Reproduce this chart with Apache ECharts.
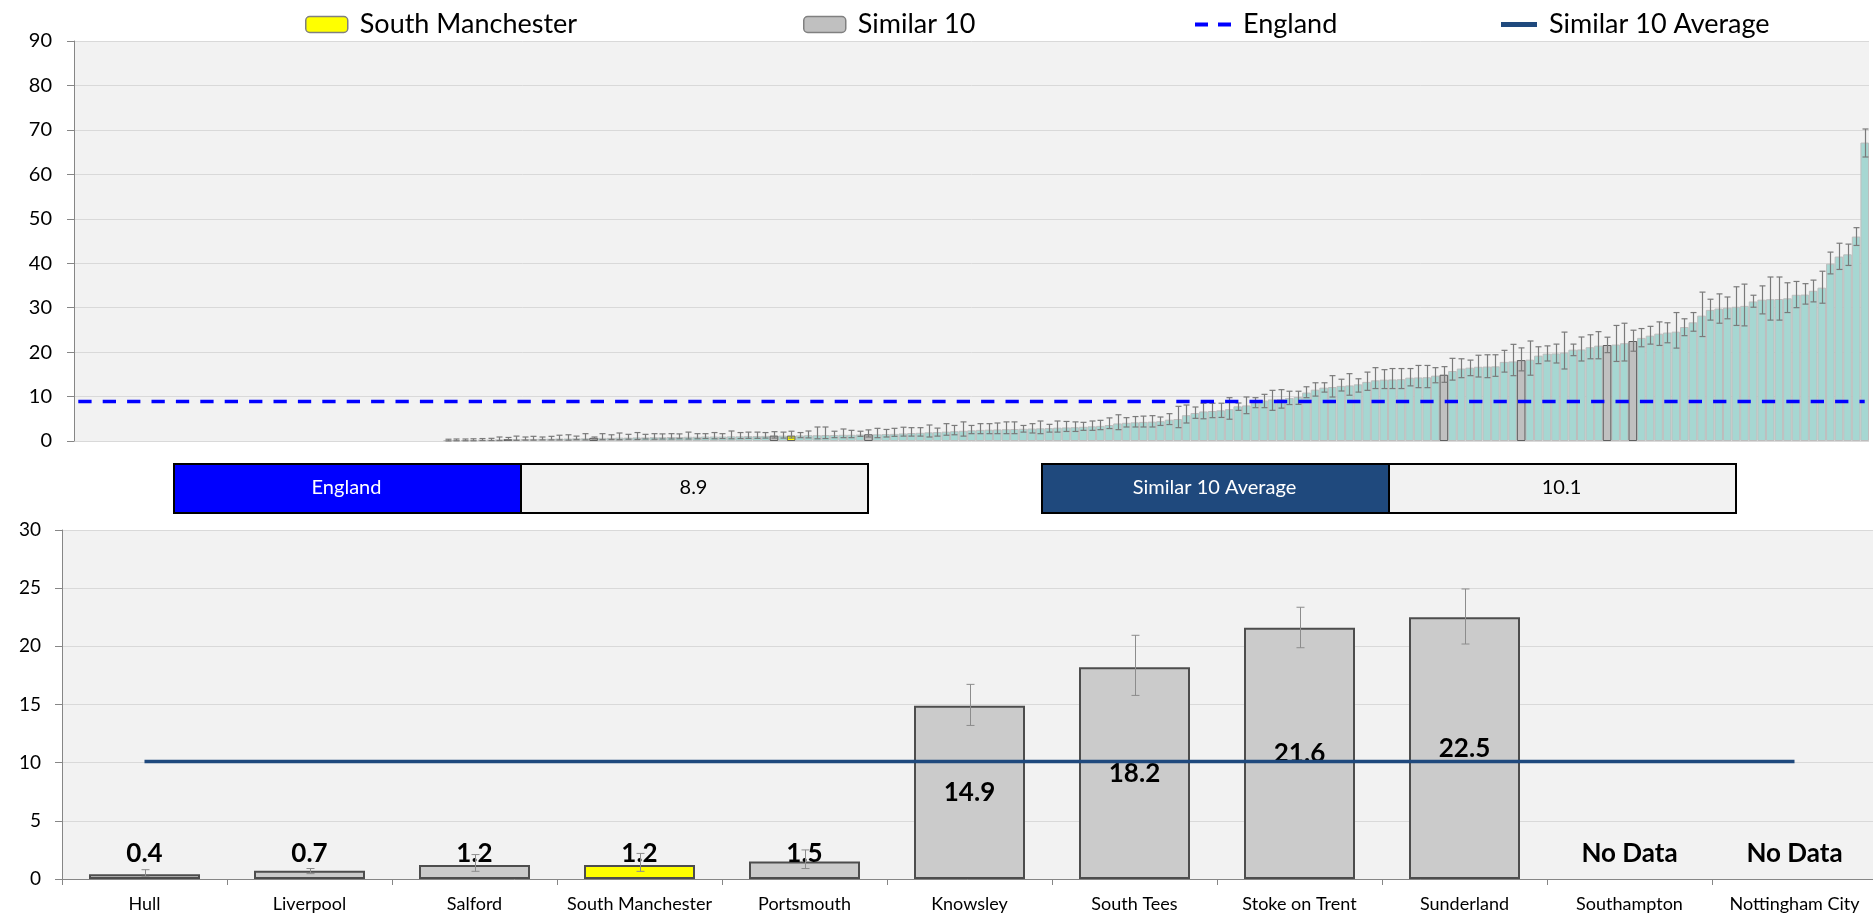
<!DOCTYPE html>
<html>
<head>
<meta charset="utf-8">
<script src="https://cdn.jsdelivr.net/npm/echarts/dist/echarts.min.js"></script>
<style>
  html, body { margin: 0; padding: 0; background: #ffffff; }
  #chart { width: 1873px; height: 915px; }
</style>
</head>
<body>
<div id="chart"></div>
<script>
// ---- Data ---------------------------------------------------------------
const localName = 'South Manchester';
const englandValue = 8.9;
const similarAverage = 10.1;

// Comparator group (bottom panel)
const similarNames = ['Hull', 'Liverpool', 'Salford', 'South Manchester', 'Portsmouth',
  'Knowsley', 'South Tees', 'Stoke on Trent', 'Sunderland', 'Southampton', 'Nottingham City'];
const similarValues = [0.4, 0.7, 1.2, 1.2, 1.5, 14.9, 18.2, 21.6, 22.5, null, null];
const similarLower  = [0.23, 0.46, 0.66, 0.66, 0.9, 13.2, 15.78, 19.88, 20.2, null, null];
const similarUpper  = [0.8, 0.9, 2.1, 2.2, 2.5, 16.73, 20.95, 23.36, 24.93, null, null];
// position of each comparator within the national ranking (1 = lowest)
const similarRank   = [51, 61, 82, 84, 93, 160, 169, 179, 182, null, null];

// National ranking (top panel), lowest to highest; null = no data
const rankedValues = [
  null, null, null, null, null, null, null, null, null, null,
  null, null, null, null, null, null, null, null, null, null,
  null, null, null, null, null, null, null, null, null, null,
  null, null, null, null, null, null, null, null, null, null,
  null, null, null,
  0.15, 0.2, 0.2, 0.25, 0.3, 0.3, 0.35, 0.4, 0.4, 0.45,
  0.45, 0.5, 0.5, 0.55, 0.55, 0.6, 0.6, 0.7, 0.7, 0.7,
  0.75, 0.75, 0.8, 0.8, 0.85, 0.85, 0.9, 0.9, 0.95, 0.95,
  1.0, 1.0, 1.0, 1.05, 1.05, 1.1, 1.1, 1.15, 1.2, 1.2,
  1.2, 1.25, 1.3, 1.3, 1.35, 1.35, 1.4, 1.4, 1.45, 1.5,
  1.5, 1.55, 1.6, 1.7, 1.8, 1.85, 1.95, 2.0, 2.1, 2.2,
  2.3, 2.4, 2.5, 2.55, 2.6, 2.65, 2.7, 2.75, 2.8, 2.85,
  2.9, 3.0, 3.05, 3.1, 3.2, 3.3, 3.4, 3.6, 3.95, 4.1,
  4.2, 4.3, 4.35, 4.45, 4.8, 4.95, 5.8, 6.3, 6.65, 6.75,
  6.9, 7.15, 7.8, 8.0, 8.6, 9.1, 9.35, 9.45, 9.65, 9.9,
  10.9, 11.55, 12.0, 12.15, 12.4, 12.5, 12.75, 13.3, 13.65, 13.8,
  13.85, 13.9, 14.25, 14.3, 14.35, 14.7, 14.9, 15.75, 16.3, 16.5,
  16.7, 16.75, 16.8, 17.8, 17.9, 18.2, 18.3, 19.2, 19.65, 19.7,
  19.9, 20.55, 20.6, 21.1, 21.45, 21.6, 21.7, 22.0, 22.5, 23.2,
  23.7, 24.15, 24.4, 24.6, 25.65, 26.7, 28.2, 29.5, 29.8, 30.0,
  30.2, 30.4, 31.4, 31.8, 31.9, 31.95, 32.1, 32.9, 32.95, 33.8,
  34.5, 39.9, 41.5, 42.0, 46.0, 67.15
];
const rankedLower = [
  null, null, null, null, null, null, null, null, null, null,
  null, null, null, null, null, null, null, null, null, null,
  null, null, null, null, null, null, null, null, null, null,
  null, null, null, null, null, null, null, null, null, null,
  null, null, null,
  0.02, 0.05, 0.05, 0.05, 0.1, 0.1, 0.1, 0.23, 0.15, 0.2,
  0.2, 0.25, 0.25, 0.25, 0.2, 0.3, 0.25, 0.46, 0.3, 0.35,
  0.3, 0.4, 0.35, 0.45, 0.4, 0.45, 0.45, 0.5, 0.45, 0.5,
  0.55, 0.5, 0.55, 0.5, 0.55, 0.6, 0.6, 0.65, 0.66, 0.65,
  0.66, 0.75, 0.7, 0.5, 0.55, 0.75, 0.75, 0.75, 1.05, 0.9,
  0.75, 0.9, 1.05, 1.1, 1.1, 1.1, 0.9, 1.1, 1.3, 1.4,
  1.1, 1.65, 1.65, 1.65, 1.65, 1.65, 1.65, 2.0, 1.8, 1.65,
  2.0, 2.0, 2.15, 2.15, 2.4, 2.4, 2.55, 2.8, 2.55, 3.15,
  3.15, 3.15, 3.15, 3.5, 3.7, 3.0, 4.05, 5.1, 5.0, 5.25,
  5.3, 4.9, 6.9, 6.15, 7.5, 7.5, 6.9, 7.4, 8.2, 8.25,
  9.75, 10.1, 11.0, 9.9, 11.25, 10.3, 11.0, 11.4, 11.8, 11.8,
  11.8, 11.8, 12.4, 12.0, 12.0, 13.1, 13.2, 13.7, 14.25, 14.7,
  14.4, 14.25, 14.55, 15.5, 14.7, 15.78, 14.8, 17.4, 18.0, 17.55,
  16.2, 19.2, 18.0, 18.5, 18.5, 19.88, 17.9, 18.0, 20.2, 21.2,
  21.8, 21.5, 22.1, 20.9, 23.7, 24.7, 23.5, 27.2, 26.5, 27.5,
  26.0, 25.9, 30.1, 28.6, 27.2, 27.2, 28.9, 30.0, 30.8, 31.3,
  31.0, 37.6, 38.6, 39.5, 44.0, 63.9
];
const rankedUpper = [
  null, null, null, null, null, null, null, null, null, null,
  null, null, null, null, null, null, null, null, null, null,
  null, null, null, null, null, null, null, null, null, null,
  null, null, null, null, null, null, null, null, null, null,
  null, null, null,
  0.4, 0.45, 0.45, 0.5, 0.55, 0.6, 0.9, 0.8, 1.1, 0.9,
  1.05, 0.9, 1.05, 1.3, 1.4, 1.1, 1.65, 0.9, 1.65, 1.4,
  1.8, 1.5, 1.9, 1.5, 1.65, 1.6, 1.65, 1.6, 2.0, 1.65,
  1.65, 1.9, 1.65, 2.25, 1.9, 2.0, 2.0, 1.9, 2.1, 2.0,
  2.2, 1.9, 2.25, 3.15, 3.15, 2.2, 2.7, 2.4, 2.2, 2.5,
  2.85, 2.6, 2.85, 3.1, 3.0, 3.0, 3.6, 2.9, 3.9, 3.5,
  4.3, 3.5, 3.9, 3.9, 4.05, 4.3, 4.3, 3.5, 3.9, 4.5,
  3.75, 4.5, 4.4, 4.3, 4.2, 4.5, 4.65, 5.2, 5.9, 5.25,
  5.5, 5.6, 5.7, 5.4, 6.15, 7.8, 8.1, 7.65, 8.5, 8.5,
  8.5, 9.75, 8.55, 9.9, 9.75, 10.5, 11.4, 11.55, 11.2, 11.2,
  12.2, 13.1, 13.1, 14.7, 13.9, 15.15, 14.0, 15.5, 16.5, 16.05,
  16.3, 16.3, 16.3, 17.0, 17.0, 16.5, 16.73, 18.6, 18.5, 18.2,
  19.3, 19.4, 19.4, 20.4, 21.75, 20.95, 22.5, 21.2, 21.4, 21.8,
  24.5, 21.8, 23.4, 23.9, 24.6, 23.36, 26.0, 26.5, 24.93, 25.3,
  25.8, 26.8, 26.6, 28.9, 27.5, 28.9, 33.5, 31.9, 33.1, 32.4,
  34.7, 35.3, 32.8, 34.9, 36.9, 36.9, 35.6, 35.9, 35.4, 36.2,
  38.2, 42.5, 44.5, 44.3, 48.0, 70.2
];

// ---- Derived series -----------------------------------------------------
const fontFamily = 'Lato, "Noto Sans", "Liberation Sans", sans-serif';
const rankCategories = rankedValues.map((_, i) => String(i + 1));

const topSimilar = rankedValues.map(() => '-');
const topLocal = rankedValues.map(() => '-');
similarNames.forEach((name, i) => {
  const r = similarRank[i];
  if (r == null || similarValues[i] == null) return;
  if (name === localName) topLocal[r - 1] = similarValues[i];
  else topSimilar[r - 1] = similarValues[i];
});

const topErrors = [];
rankedValues.forEach((v, i) => {
  if (v != null) topErrors.push([i, rankedLower[i], rankedUpper[i]]);
});
const bottomErrors = [];
similarValues.forEach((v, i) => {
  if (v != null) bottomErrors.push([i, similarLower[i], similarUpper[i]]);
});

// short bars carry their value label just above the axis, tall bars in the middle
function labelledBar(v) {
  return {
    value: v,
    label: v < 4.4 ? { position: 'insideBottom', distance: 12 } : { position: 'inside' }
  };
}
const bottomSimilar = similarValues.map((v, i) =>
  (v == null || similarNames[i] === localName) ? '-' : labelledBar(v));
const bottomLocal = similarValues.map((v, i) =>
  (v != null && similarNames[i] === localName) ? labelledBar(v) : '-');
const noDataNames = similarNames.filter((_, i) => similarValues[i] == null);

function errorBars(capHalf, color, width) {
  return function (params, api) {
    const lo = api.coord([api.value(0), api.value(1)]);
    const hi = api.coord([api.value(0), api.value(2)]);
    const x = Math.round(lo[0]) + 0.5;
    const st = { stroke: color, lineWidth: width };
    return {
      type: 'group',
      children: [
        { type: 'line', shape: { x1: x, y1: hi[1], x2: x, y2: lo[1] }, style: st },
        { type: 'line', shape: { x1: x - capHalf, y1: hi[1], x2: x + capHalf, y2: hi[1] }, style: st },
        { type: 'line', shape: { x1: x - capHalf, y1: lo[1], x2: x + capHalf, y2: lo[1] }, style: st }
      ]
    };
  };
}

const valueLabel = { fontSize: 26, fontWeight: 'bold', color: '#000', fontFamily: fontFamily };
const legendText = { fontSize: 27, fontFamily: fontFamily, color: '#000', padding: [0, 0, 0, 7] };
const legendBase = { top: 11, padding: 0, selectedMode: false, textStyle: legendText };

const chart = echarts.init(document.getElementById('chart'), null, { renderer: 'canvas' });

chart.setOption({
  animation: false,
  backgroundColor: '#ffffff',
  textStyle: { fontFamily: fontFamily },
  legend: [
    Object.assign({}, legendBase, { data: [localName], left: 305, itemWidth: 42, itemHeight: 16,
      itemStyle: { color: '#ffff00', borderColor: '#808080', borderWidth: 1.5 } }),
    Object.assign({}, legendBase, { data: ['Similar 10'], left: 803, itemWidth: 42, itemHeight: 16,
      itemStyle: { color: '#c0c0c0', borderColor: '#808080', borderWidth: 1.5 } }),
    Object.assign({}, legendBase, { data: ['England'], left: 1195, itemWidth: 36, itemHeight: 4,
      icon: 'path://M0,0H13V4H0Z M23,0H36V4H23Z',
      itemStyle: { color: '#0000ff', borderWidth: 0 } }),
    Object.assign({}, legendBase, { data: ['Similar 10 Average'], left: 1501, itemWidth: 36, itemHeight: 5,
      icon: 'rect', itemStyle: { color: '#1f497d', borderWidth: 0 } })
  ],
  grid: [
    { left: 74, top: 41, width: 1795, height: 400, show: true, backgroundColor: '#f2f2f2',
      borderWidth: 0, containLabel: false, outerBoundsMode: 'none' },
    { left: 62, top: 530, width: 1815, height: 349, show: true, backgroundColor: '#f2f2f2',
      borderWidth: 0, containLabel: false, outerBoundsMode: 'none' }
  ],
  xAxis: [
    { gridIndex: 0, type: 'category', data: rankCategories, show: false, boundaryGap: true },
    {
      gridIndex: 1, type: 'category', data: similarNames, boundaryGap: true,
      axisLine: { show: true, lineStyle: { color: '#868686', width: 1 } },
      axisTick: { show: true, alignWithLabel: false, interval: 0, length: 6, lineStyle: { color: '#868686' } },
      axisLabel: { interval: 0, margin: 16, fontSize: 18, color: '#000', fontFamily: fontFamily },
      splitLine: { show: false }
    }
  ],
  yAxis: [
    {
      gridIndex: 0, type: 'value', min: 0, max: 90, interval: 10,
      axisLine: { show: true, lineStyle: { color: '#868686', width: 1 } },
      axisTick: { show: true, length: 7, lineStyle: { color: '#868686' } },
      axisLabel: { margin: 22, fontSize: 20, color: '#000', fontFamily: fontFamily },
      splitLine: { show: true, lineStyle: { color: '#d9d9d9', width: 1 } }
    },
    {
      gridIndex: 1, type: 'value', min: 0, max: 30, interval: 5,
      axisLine: { show: true, lineStyle: { color: '#868686', width: 1 } },
      axisTick: { show: true, length: 7, lineStyle: { color: '#868686' } },
      axisLabel: { margin: 21, fontSize: 19, color: '#000', fontFamily: fontFamily },
      splitLine: { show: true, lineStyle: { color: '#d9d9d9', width: 1 } }
    }
  ],
  series: [
    // ---- national ranking
    {
      name: 'All CCGs', type: 'bar', xAxisIndex: 0, yAxisIndex: 0, data: rankedValues.map(v => v == null ? '-' : v),
      barGap: '-100%', barCategoryGap: '0%',
      itemStyle: { color: '#a6d7d2', borderColor: '#bdbdbd', borderWidth: 1 }, z: 2
    },
    {
      name: 'Similar 10', type: 'bar', xAxisIndex: 0, yAxisIndex: 0, data: topSimilar,
      barGap: '-100%', barCategoryGap: '0%',
      itemStyle: { color: '#c0c0c0', borderColor: '#5f5f5f', borderWidth: 1 }, z: 2
    },
    {
      name: localName, type: 'bar', xAxisIndex: 0, yAxisIndex: 0, data: topLocal,
      barGap: '-100%', barCategoryGap: '0%',
      itemStyle: { color: '#ffff00', borderColor: '#5f5f5f', borderWidth: 1 }, z: 2
    },
    {
      name: 'National confidence intervals', type: 'custom', xAxisIndex: 0, yAxisIndex: 0,
      data: topErrors, encode: { x: 0, y: [1, 2] },
      renderItem: errorBars(3, '#7a7a7a', 1.2), z: 3, silent: true
    },
    {
      name: 'England', type: 'line', xAxisIndex: 0, yAxisIndex: 0,
      data: rankCategories.map(() => englandValue),
      symbol: 'none', silent: true,
      lineStyle: { color: '#0000ff', width: 3.5, type: [13.3, 11.1] },
      itemStyle: { color: '#0000ff' }, z: 4
    },
    // ---- comparator group
    {
      name: 'Similar 10', type: 'bar', xAxisIndex: 1, yAxisIndex: 1, data: bottomSimilar,
      barWidth: 111, barGap: '-100%',
      itemStyle: { color: '#cbcbcb', borderColor: '#4d4d4d', borderWidth: 2 },
      label: Object.assign({ show: true, formatter: p => Number(p.value).toFixed(1) }, valueLabel),
      markPoint: {
        symbol: 'rect', symbolSize: [1, 1], silent: true,
        itemStyle: { color: 'rgba(0,0,0,0)' },
        label: Object.assign({ show: true, position: 'top', distance: 12, formatter: 'No Data' }, valueLabel),
        data: noDataNames.map(n => ({ coord: [n, 0] }))
      },
      z: 2
    },
    {
      name: localName, type: 'bar', xAxisIndex: 1, yAxisIndex: 1, data: bottomLocal,
      barWidth: 111, barGap: '-100%',
      itemStyle: { color: '#ffff00', borderColor: '#4d4d4d', borderWidth: 2 },
      label: Object.assign({ show: true, formatter: p => Number(p.value).toFixed(1) }, valueLabel),
      z: 2
    },
    {
      name: 'Comparator confidence intervals', type: 'custom', xAxisIndex: 1, yAxisIndex: 1,
      data: bottomErrors, encode: { x: 0, y: [1, 2] },
      renderItem: errorBars(4, '#8c8c8c', 1), z: 3, silent: true
    },
    {
      name: 'Similar 10 Average', type: 'line', xAxisIndex: 1, yAxisIndex: 1,
      data: similarNames.map(() => similarAverage),
      symbol: 'none', silent: true,
      lineStyle: { color: '#1f497d', width: 3.5 },
      itemStyle: { color: '#1f497d' }, z: 4
    }
  ],
  graphic: [
    { type: 'rect', left: 173, top: 463, shape: { width: 347, height: 49 },
      style: { fill: '#0000ff', stroke: '#000', lineWidth: 2 } },
    { type: 'rect', left: 520, top: 463, shape: { width: 347, height: 49 },
      style: { fill: '#f2f2f2', stroke: '#000', lineWidth: 2 } },
    { type: 'text', x: 346.5, y: 488,
      style: { text: 'England', fill: '#fff', font: '20px ' + fontFamily, align: 'center', verticalAlign: 'middle' } },
    { type: 'text', x: 693.5, y: 488,
      style: { text: englandValue.toFixed(1), fill: '#000', font: '20px ' + fontFamily, align: 'center', verticalAlign: 'middle' } },
    { type: 'rect', left: 1041, top: 463, shape: { width: 347, height: 49 },
      style: { fill: '#1f497d', stroke: '#000', lineWidth: 2 } },
    { type: 'rect', left: 1388, top: 463, shape: { width: 347, height: 49 },
      style: { fill: '#f2f2f2', stroke: '#000', lineWidth: 2 } },
    { type: 'text', x: 1214.5, y: 488,
      style: { text: 'Similar 10 Average', fill: '#fff', font: '20px ' + fontFamily, align: 'center', verticalAlign: 'middle' } },
    { type: 'text', x: 1561.5, y: 488,
      style: { text: similarAverage.toFixed(1), fill: '#000', font: '20px ' + fontFamily, align: 'center', verticalAlign: 'middle' } }
  ]
});
</script>
</body>
</html>
